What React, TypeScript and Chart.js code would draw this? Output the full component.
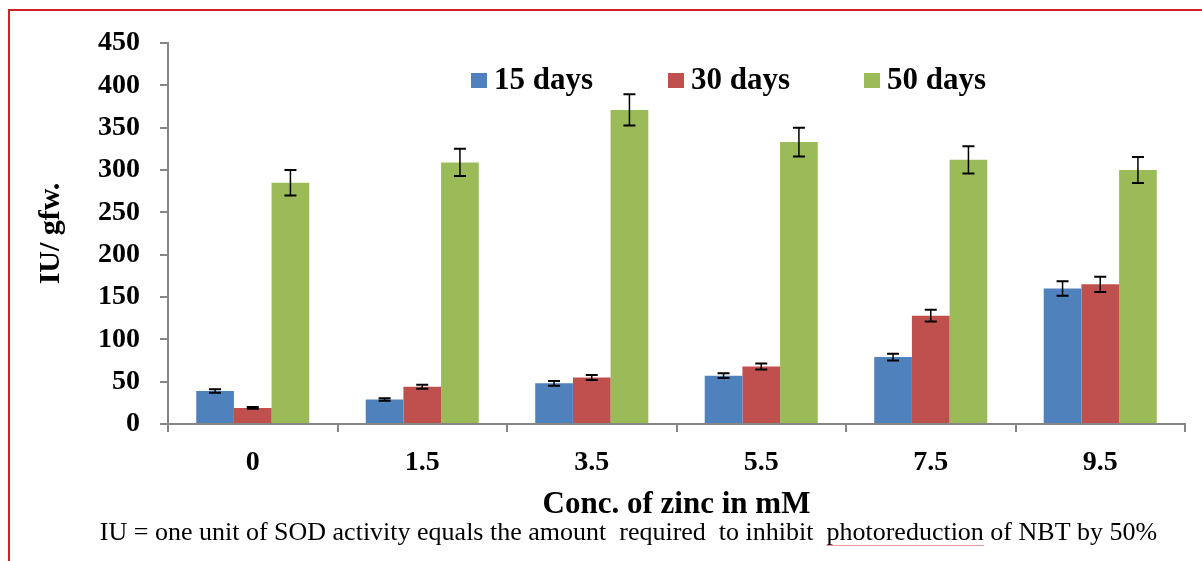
import React, { useEffect, useRef } from "react";
import { Chart, registerables } from "chart.js";

Chart.register(...registerables);

const categories = ["0", "1.5", "3.5", "5.5", "7.5", "9.5"];
const seriesLabels = ["15 days", "30 days", "50 days"];
const days15 = [39, 29, 48, 57, 79, 160];
const days30 = [19, 44, 55, 68, 128, 165];
const days50 = [285, 309, 371, 333, 312, 300];
const err15 = [2, 1.5, 2.8, 2.8, 4, 8.5];
const err30 = [1, 2.5, 3, 3.5, 7, 9];
const err50 = [15, 16, 18.5, 17, 16, 15.5];
const yTicks = [0, 50, 100, 150, 200, 250, 300, 350, 400, 450];
const colors = ["#4f81bd", "#c0504d", "#9bbb59"];
const xTitle = "Conc. of zinc in mM";
const yTitle = "IU/ gfw.";
const footPre = "IU = one unit of SOD activity equals the amount  required  to inhibit  ";
const footWord = "photoreduction";
const footPost = " of NBT by 50%";

const SERIF = "'Liberation Serif', 'Times New Roman', serif";

const errorBarPlugin = {
  id: "errorBars",
  afterDatasetsDraw(chart: any) {
    const ctx = chart.ctx;
    const yScale = chart.scales.y;
    const errs = [err15, err30, err50];
    ctx.save();
    ctx.strokeStyle = "#000";
    chart.data.datasets.forEach((ds: any, di: number) => {
      const meta = chart.getDatasetMeta(di);
      meta.data.forEach((el: any, i: number) => {
        const v = ds.data[i];
        const e = errs[di][i];
        const x = el.x;
        const yt = yScale.getPixelForValue(v + e);
        const yb = yScale.getPixelForValue(v - e);
        const cap = 6;
        ctx.lineWidth = 1.5;
        ctx.beginPath();
        ctx.moveTo(x, yt);
        ctx.lineTo(x, yb);
        ctx.stroke();
        ctx.lineWidth = 2;
        ctx.beginPath();
        ctx.moveTo(x - cap, yt);
        ctx.lineTo(x + cap, yt);
        ctx.moveTo(x - cap, yb);
        ctx.lineTo(x + cap, yb);
        ctx.stroke();
      });
    });
    ctx.restore();
  },
};

const decorPlugin = {
  id: "decor",
  afterDraw(chart: any) {
    const ctx = chart.ctx;
    ctx.save();
    // frame
    ctx.strokeStyle = "#d0202a";
    ctx.lineWidth = 2;
    ctx.beginPath();
    ctx.moveTo(9, 561);
    ctx.lineTo(9, 10);
    ctx.lineTo(1202, 10);
    ctx.stroke();

    // legend
    ctx.font = `bold 31px ${SERIF}`;
    ctx.textBaseline = "middle";
    ctx.textAlign = "left";
    const starts = [471, 668, 864];
    chart.data.datasets.forEach((ds: any, i: number) => {
      const x = starts[i];
      ctx.fillStyle = ds.backgroundColor;
      ctx.fillRect(x, 73, 16, 15);
      ctx.fillStyle = "#000";
      ctx.fillText(ds.label, x + 23, 81);
    });

    // footnote
    ctx.font = `26px ${SERIF}`;
    ctx.textAlign = "left";
    ctx.fillStyle = "#000";
    const full = footPre + footWord + footPost;
    const w = ctx.measureText(full).width;
    const x0 = 628.5 - w / 2;
    ctx.fillText(full, x0, 533);
    const ux = x0 + ctx.measureText(footPre).width;
    const uw = ctx.measureText(footWord).width;
    ctx.strokeStyle = "rgba(240,120,130,0.8)";
    ctx.lineWidth = 1;
    ctx.beginPath();
    ctx.moveTo(ux, 545.5);
    ctx.lineTo(ux + uw, 545.5);
    ctx.stroke();
    ctx.restore();
  },
};

export default function App() {
  const ref = useRef<HTMLCanvasElement | null>(null);
  useEffect(() => {
    if (!ref.current) return;
    const chart = new Chart(ref.current, {
      type: "bar",
      data: {
        labels: categories,
        datasets: [days15, days30, days50].map((d, i) => ({
          label: seriesLabels[i],
          data: d,
          backgroundColor: colors[i],
          borderWidth: 0,
          categoryPercentage: 0.667,
          barPercentage: 1,
        })),
      },
      options: {
        animation: false,
        responsive: false,
        devicePixelRatio: 1,
        layout: { padding: { left: 0, right: 17, top: 43, bottom: 0 } },
        plugins: { legend: { display: false }, tooltip: { enabled: false } },
        scales: {
          x: {
            afterFit: (s: any) => {
              s.height = 137;
            },
            grid: {
              drawOnChartArea: false,
              offset: true,
              tickLength: 8,
              color: "#868686",
              lineWidth: 2,
            },
            border: { color: "#868686", width: 2 },
            ticks: {
              color: "#000",
              padding: 14,
              font: { family: SERIF, size: 28, weight: "bold" },
            },
            title: {
              display: true,
              text: xTitle,
              color: "#000",
              font: { family: SERIF, size: 31, weight: "bold" },
              padding: { top: 0, bottom: 37 },
            },
          },
          y: {
            min: 0,
            max: 450,
            afterFit: (s: any) => {
              s.width = 168;
            },
            afterBuildTicks: (s: any) => {
              s.ticks = yTicks.map((v) => ({ value: v }));
            },
            grid: {
              drawOnChartArea: false,
              tickLength: 8,
              color: "#868686",
              lineWidth: 2,
            },
            border: { color: "#868686", width: 2 },
            ticks: {
              color: "#000",
              padding: 20,
              font: { family: SERIF, size: 28, weight: "bold" },
            },
            title: {
              display: true,
              text: yTitle,
              color: "#000",
              font: { family: SERIF, size: 30, weight: "bold" },
              padding: { top: 33, bottom: 0 },
            },
          },
        },
      },
      plugins: [errorBarPlugin, decorPlugin],
    } as any);
    return () => chart.destroy();
  }, []);
  return (
    <div style={{ position: "absolute", left: 0, top: 0, width: 1202, height: 561, background: "#fff" }}>
      <canvas ref={ref} width={1202} height={561} style={{ display: "block" }} />
    </div>
  );
}
